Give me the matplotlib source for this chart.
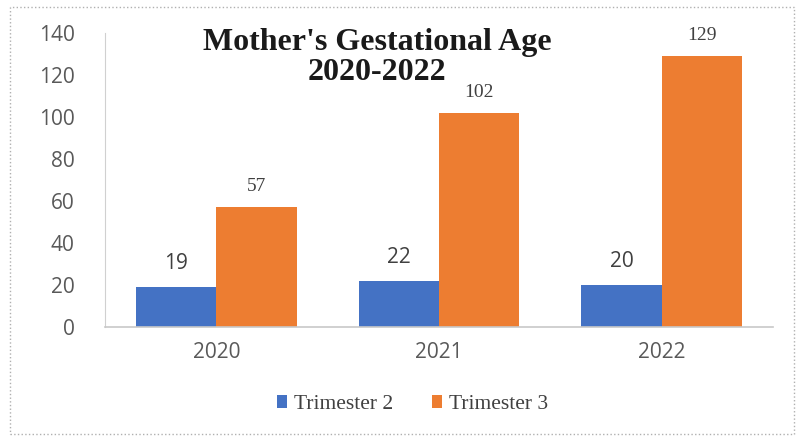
import matplotlib.pyplot as plt
import matplotlib.patches as patches
import numpy as np

years = ['2020', '2021', '2022']
trimester2 = [19, 22, 20]
trimester3 = [57, 102, 129]
yticks = [0, 20, 40, 60, 80, 100, 120, 140]
title_lines = ["Mother's Gestational Age", "2020-2022"]

blue = '#4472C4'
orange = '#ED7D31'
grey = '#595959'

fig = plt.figure(figsize=(7.96, 4.37), dpi=100)
ax = fig.add_axes([0.132, 0.252, 0.839, 0.672])

x = np.arange(len(years))
w = 0.36
b2 = ax.bar(x - w/2, trimester2, w, color=blue, label='Trimester 2')
b3 = ax.bar(x + w/2, trimester3, w, color=orange, label='Trimester 3')

# data labels: blue ones sans, orange ones serif like the original
for rect, v in zip(b2, trimester2):
    ax.annotate(str(v), (rect.get_x() + rect.get_width()/2, v),
                xytext=(0, 17), textcoords='offset points', ha='center', va='center',
                fontsize=15, family='Open Sans', color='#404040')
for rect, v in zip(b3, trimester3):
    ax.annotate(str(v), (rect.get_x() + rect.get_width()/2, v),
                xytext=(0, 15), textcoords='offset points', ha='center', va='center',
                fontsize=14, family='Liberation Serif', color='#404040')

ax.set_xlim(-0.5, 2.5)
ax.set_ylim(0, 140)
ax.set_yticks(yticks)
ax.set_xticks(x)
ax.set_xticklabels(years)
ax.tick_params(axis='both', length=0, colors=grey, labelsize=15)
ax.tick_params(axis='y', pad=22)
ax.tick_params(axis='x', pad=11)
for lab in ax.get_xticklabels() + ax.get_yticklabels():
    lab.set_family('Open Sans')

for s in ['top', 'right']:
    ax.spines[s].set_visible(False)
ax.spines['left'].set_color('#d0d0d0')
ax.spines['bottom'].set_color('#c8c8c8')
ax.spines['bottom'].set_linewidth(1.2)

# title as two separate lines
for line, yy in zip(title_lines, [0.902, 0.834]):
    fig.text(0.474, yy, line, ha='center', va='center',
             fontsize=23, fontweight='bold', family='Liberation Serif', color='#1a1a1a')

ax.legend(loc='center', bbox_to_anchor=(0.46, -0.265), ncol=2, frameon=False,
          prop={'family': 'Liberation Serif', 'size': 15.5}, handlelength=0.5,
          handleheight=0.5, handletextpad=0.3, columnspacing=1.8, labelcolor='#404040')

fig.patches.append(patches.Rectangle((0.013, 0.008), 0.985, 0.976, transform=fig.transFigure,
                                     fill=False, linestyle=':', edgecolor='#b0b0b0', linewidth=1))

fig.savefig('out.png', dpi=100)
